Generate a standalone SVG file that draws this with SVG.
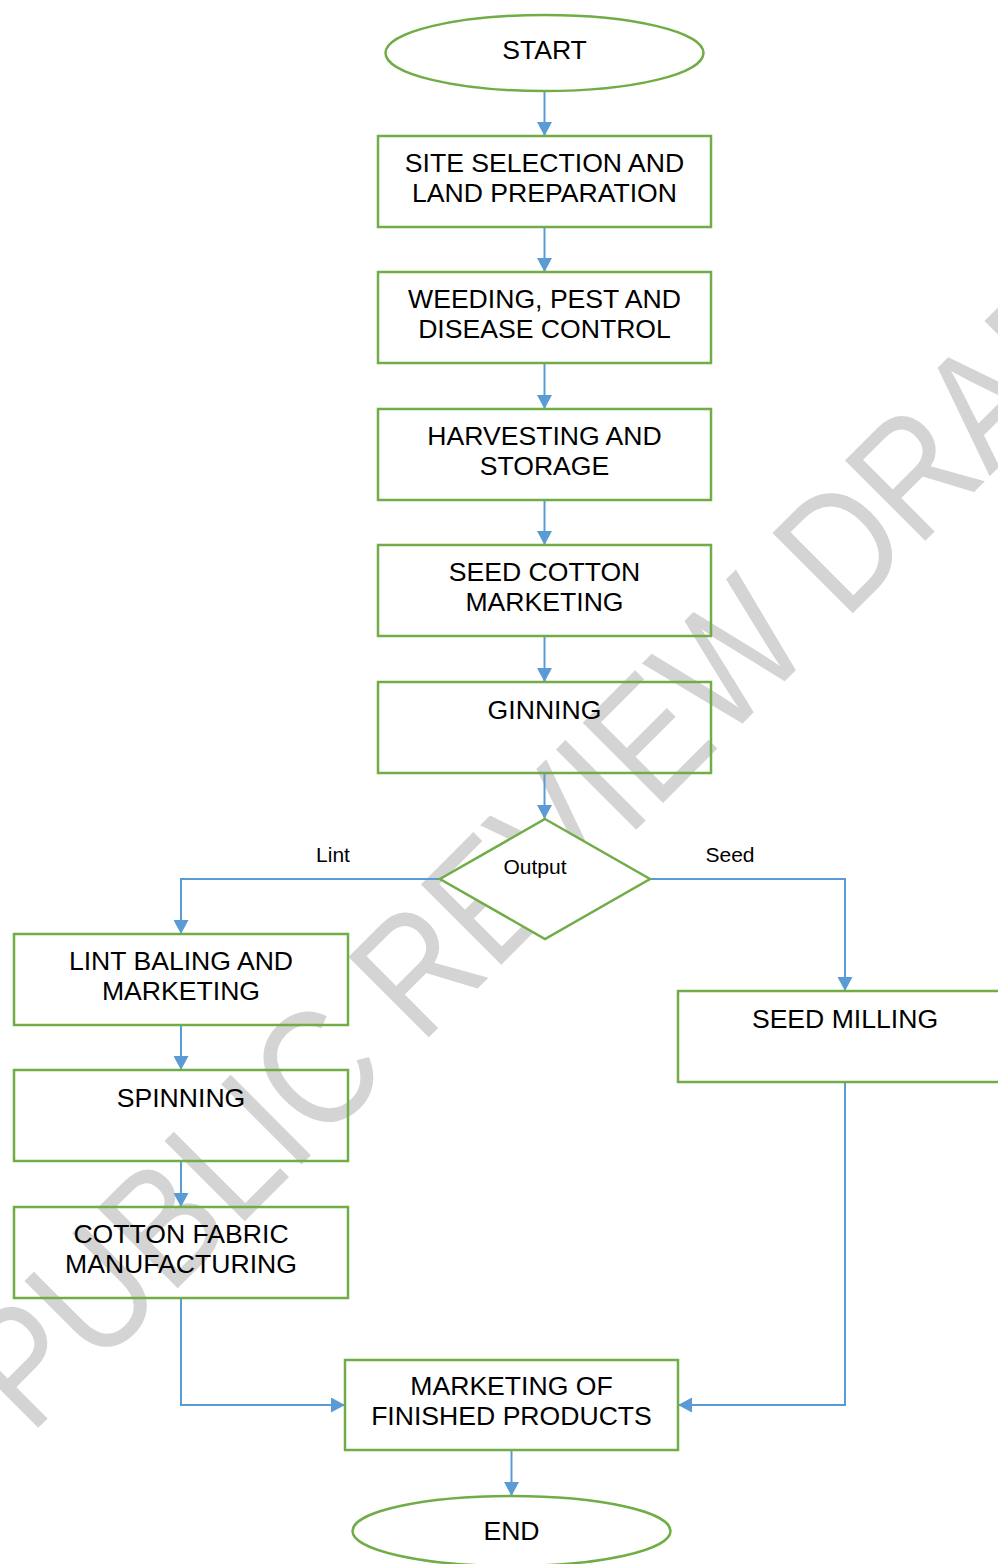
<svg xmlns="http://www.w3.org/2000/svg" width="998" height="1564" viewBox="0 0 998 1564">
<style>
.bg{fill:#ffffff}
.wm{font-family:"Liberation Sans",Arial,sans-serif;font-size:165px;fill:#d4d4d4}
.node{fill:none;stroke:#70ad47;stroke-width:2.5}
.dia{fill:#ffffff;stroke:#70ad47;stroke-width:2.5}
.t{font-family:"Liberation Sans",Arial,sans-serif;font-size:26.6px;fill:#000000;text-anchor:middle}
.lb{font-family:"Liberation Sans",Arial,sans-serif;font-size:21px;fill:#000000;text-anchor:middle}
.c{fill:none;stroke:#5b9bd5;stroke-width:2;marker-end:url(#ah)}
</style>
<defs>
<marker id="ah" markerUnits="userSpaceOnUse" markerWidth="15" markerHeight="15" refX="14" refY="7.5" orient="auto">
<path d="M0,0 L14,7.5 L0,15 z" fill="#5b9bd5"/>
</marker>
</defs>
<rect class="bg" x="0" y="0" width="998" height="1564"/>
<text class="wm" transform="translate(30,1436) rotate(-45)" textLength="1625" lengthAdjust="spacingAndGlyphs">PUBLIC REVIEW DRAFT</text>
<g id="connectors">
<path class="c" d="M544.5,91 V136"/>
<path class="c" d="M544.5,227 V272"/>
<path class="c" d="M544.5,363 V409"/>
<path class="c" d="M544.5,500 V545"/>
<path class="c" d="M544.5,636 V682"/>
<path class="c" d="M544.5,773 V819"/>
<path class="c" d="M440,879 H181 V934"/>
<path class="c" d="M650,879 H845 V991"/>
<path class="c" d="M181,1025 V1070"/>
<path class="c" d="M181,1161 V1207"/>
<path class="c" d="M181,1298 V1405 H345"/>
<path class="c" d="M845,1082 V1405 H678"/>
<path class="c" d="M511.5,1450 V1496"/>
</g>
<g id="start">
<ellipse class="node" cx="544.5" cy="53" rx="159" ry="38"/>
<text class="t" x="544.5" y="59">START</text>
</g>
<g id="site">
<rect class="node" x="378" y="136" width="333" height="91"/>
<text class="t" x="544.5" y="172">SITE SELECTION AND</text>
<text class="t" x="544.5" y="202">LAND PREPARATION</text>
</g>
<g id="weeding">
<rect class="node" x="378" y="272" width="333" height="91"/>
<text class="t" x="544.5" y="308">WEEDING, PEST AND</text>
<text class="t" x="544.5" y="338">DISEASE CONTROL</text>
</g>
<g id="harvesting">
<rect class="node" x="378" y="409" width="333" height="91"/>
<text class="t" x="544.5" y="445">HARVESTING AND</text>
<text class="t" x="544.5" y="475">STORAGE</text>
</g>
<g id="seedcotton">
<rect class="node" x="378" y="545" width="333" height="91"/>
<text class="t" x="544.5" y="581">SEED COTTON</text>
<text class="t" x="544.5" y="611">MARKETING</text>
</g>
<g id="ginning">
<rect class="node" x="378" y="682" width="333" height="91"/>
<text class="t" x="544.5" y="719">GINNING</text>
</g>
<g id="output">
<polygon class="dia" points="545,819 650,879 545,939 440,879"/>
<text class="lb" x="535" y="874">Output</text>
</g>
<text class="lb" x="333" y="862">Lint</text>
<text class="lb" x="730" y="862">Seed</text>
<g id="lintbaling">
<rect class="node" x="14" y="934" width="334" height="91"/>
<text class="t" x="181" y="970">LINT BALING AND</text>
<text class="t" x="181" y="1000">MARKETING</text>
</g>
<g id="spinning">
<rect class="node" x="14" y="1070" width="334" height="91"/>
<text class="t" x="181" y="1107">SPINNING</text>
</g>
<g id="fabric">
<rect class="node" x="14" y="1207" width="334" height="91"/>
<text class="t" x="181" y="1243">COTTON FABRIC</text>
<text class="t" x="181" y="1273">MANUFACTURING</text>
</g>
<g id="seedmilling">
<rect class="node" x="678" y="991" width="334" height="91"/>
<text class="t" x="845" y="1028">SEED MILLING</text>
</g>
<g id="marketing">
<rect class="node" x="345" y="1360" width="333" height="90"/>
<text class="t" x="511.5" y="1395">MARKETING OF</text>
<text class="t" x="511.5" y="1425">FINISHED PRODUCTS</text>
</g>
<g id="end">
<ellipse class="node" cx="511.5" cy="1531" rx="159" ry="35"/>
<text class="t" x="511.5" y="1540">END</text>
</g>
</svg>
